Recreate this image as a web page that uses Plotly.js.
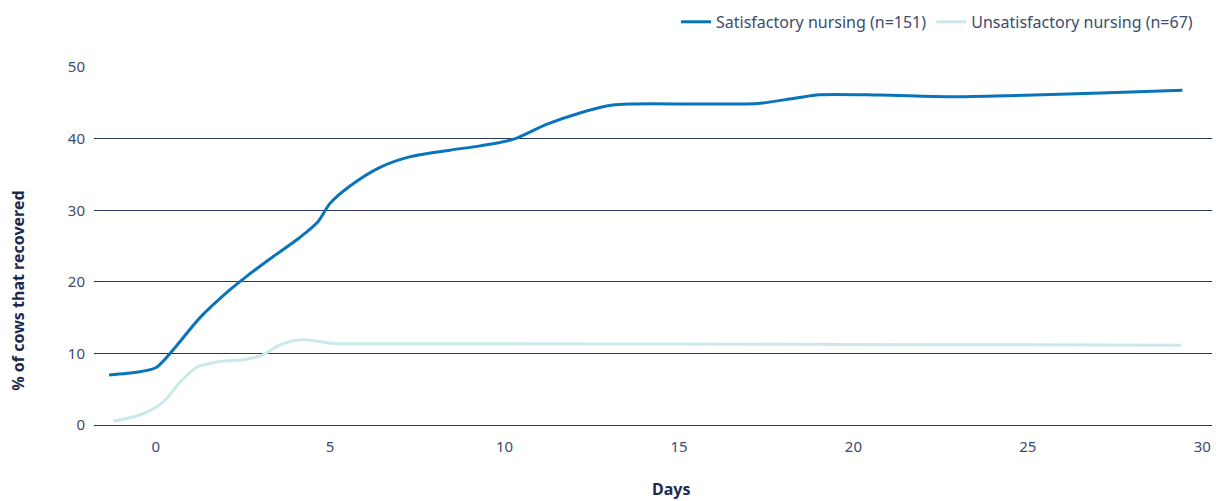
<!DOCTYPE html>
<html>
<head>
<meta charset="utf-8">
<script src="https://cdn.plot.ly/plotly-3.0.1.min.js"></script>
<style>html,body{margin:0;padding:0;background:#fff}#chart{width:1216px;height:501px}</style>
</head>
<body>
<div id="chart"></div>
<script>
// Days since start
const satDays = [-1.34, -0.5, 0, 0.15, 0.55, 1.27, 2.13, 2.56, 3.3, 4.13, 4.65, 5.0, 5.57, 6.43, 7.3, 8.43, 9.3, 10.24, 11.2, 12.16, 13.1, 13.68, 15.5, 16.9, 17.4, 18.37, 19.03, 20.75, 22.76, 24.67, 27.1, 29.43];
const satValues = [7.0, 7.4, 8.0, 8.6, 10.8, 15.0, 18.9, 20.6, 23.3, 26.2, 28.4, 31.0, 33.4, 36.0, 37.5, 38.4, 39.0, 39.9, 42.0, 43.6, 44.7, 44.85, 44.85, 44.85, 45.0, 45.7, 46.15, 46.1, 45.87, 46.05, 46.4, 46.76];

const unsatDays = [-1.22, -0.45, 0.21, 0.7, 1.19, 1.75, 2.6, 3.07, 3.56, 4.13, 4.6, 5.08, 6.7, 10, 15, 20, 25, 29.4];
const unsatValues = [0.55, 1.4, 3.2, 6.0, 8.1, 8.8, 9.2, 9.8, 11.2, 11.9, 11.75, 11.4, 11.35, 11.35, 11.3, 11.25, 11.2, 11.15];

const seriesNames = ['Satisfactory nursing (n=151)', 'Unsatisfactory nursing (n=67)'];
const xTickVals = [0, 5, 10, 15, 20, 25, 30];
const yTickVals = [0, 10, 20, 30, 40, 50];
const xTitle = 'Days';
const yTitle = '% of cows that recovered';

const FONT = '"Noto Sans", "Open Sans", sans-serif';
const data = [
  {x: satDays, y: satValues, name: seriesNames[0], type: 'scatter', mode: 'lines',
   line: {color: '#0a74ba', width: 3, shape: 'spline', smoothing: 0.8}},
  {x: unsatDays, y: unsatValues, name: seriesNames[1], type: 'scatter', mode: 'lines',
   line: {color: '#c9e9eb', width: 3, shape: 'spline', smoothing: 0.8}}
];

const layout = {
  width: 1216, height: 501,
  margin: {l: 94, r: 4, t: 67, b: 76},
  paper_bgcolor: '#fff', plot_bgcolor: '#fff',
  font: {family: FONT, size: 15, color: '#3d4b6e'},
  showlegend: true,
  legend: {orientation: 'h', x: 0.9875, xanchor: 'right', y: 1.126, yanchor: 'middle',
           font: {family: FONT, size: 16, color: '#3d4b6e'}, itemwidth: 30, tracegroupgap: 0},
  xaxis: {range: [-1.77, 30.28], tickvals: xTickVals, showgrid: false, zeroline: false,
          showline: false, ticks: '', ticklabelstandoff: 11, tickfont: {size: 15, color: '#3d4b6e'}},
  yaxis: {range: [0, 50.02], tickvals: yTickVals, showgrid: true, gridcolor: '#2b3658', gridwidth: 1,
          zeroline: true, zerolinecolor: '#2b3658', zerolinewidth: 1, showline: false, ticks: '',
          ticklabelstandoff: 8, tickfont: {size: 15, color: '#3d4b6e'}},
  annotations: [
    {text: '<b>' + yTitle + '</b>', xref: 'paper', yref: 'paper', x: -0.068, y: 0.375,
     xanchor: 'center', yanchor: 'middle', textangle: -90, showarrow: false,
     font: {family: FONT, size: 16, color: '#1b2a4e'}},
    {text: '<b>' + xTitle + '</b>', xref: 'paper', yref: 'paper', x: 0.516, y: -0.178,
     xanchor: 'center', yanchor: 'middle', showarrow: false,
     font: {family: FONT, size: 16, color: '#1b2a4e'}}
  ]
};

Plotly.newPlot('chart', data, layout, {displayModeBar: false, staticPlot: true});
</script>
</body>
</html>
